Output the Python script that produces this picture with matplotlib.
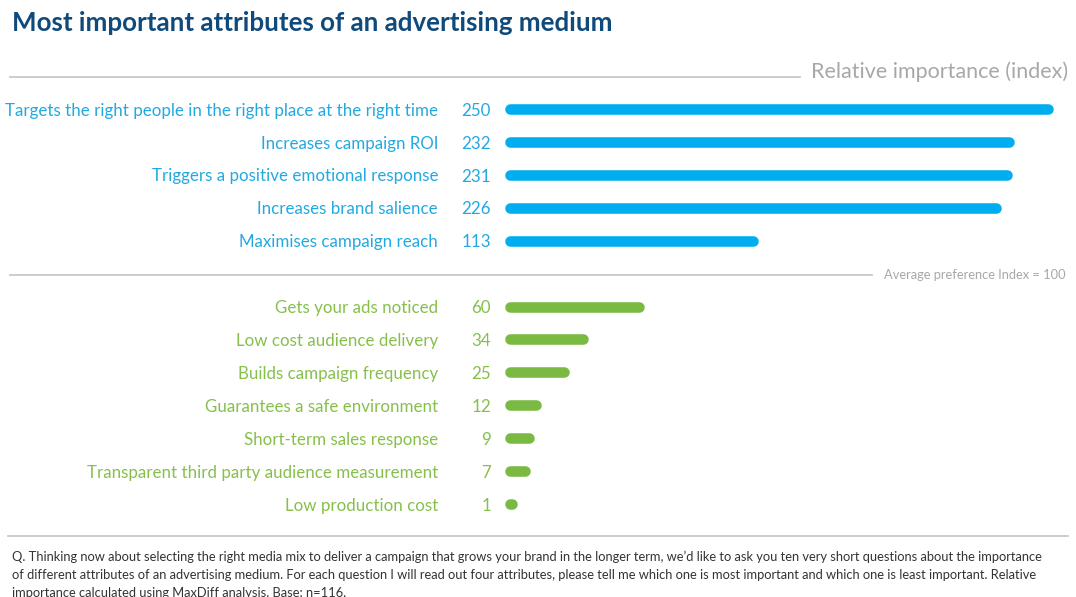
import matplotlib
matplotlib.use("Agg")
import matplotlib.pyplot as plt
from matplotlib.lines import Line2D
from matplotlib import transforms

plt.rcParams['font.family'] = ['Lato', 'DejaVu Sans']

# Attribute groups and their relative importance index
top_attributes = [
    "Targets the right people in the right place at the right time",
    "Increases campaign ROI",
    "Triggers a positive emotional response",
    "Increases brand salience",
    "Maximises campaign reach",
]
top_values = [250, 232, 231, 226, 113]

low_attributes = [
    "Gets your ads noticed",
    "Low cost audience delivery",
    "Builds campaign frequency",
    "Guarantees a safe environment",
    "Short-term sales response",
    "Transparent third party audience measurement",
    "Low production cost",
]
low_values = [60, 34, 25, 12, 9, 7, 1]

title = "Most important attributes of an advertising medium"
axis_caption = "Relative importance (index)"
average_note = "Average preference Index = 100"
footnote_lines = [
    "Q. Thinking now about selecting the right media mix to deliver a campaign that grows your brand in the longer term, we\u2019d like to ask you ten very short questions about the importance",
    "of different attributes of an advertising medium. For each question I will read out four attributes, please tell me which one is most important and which one is least important. Relative",
    "importance calculated using MaxDiff analysis. Base: n=116.",
]

W, H = 1076, 597
BLUE_BAR = "#00adef"
BLUE_TXT = "#22a9e2"
GREEN_BAR = "#7aba43"
GREEN_TXT = "#86c04b"
GREY_LINE = "#c8c8c8"
GREY_TXT = "#a8a8a8"

fig = plt.figure(figsize=(W / 100, H / 100), dpi=100)
fig.patch.set_facecolor("white")


def fx(px):
    return px / W


def fy(py):
    return 1 - py / H


# Bar area: row 0 at top, row 12 at bottom; one empty row between groups
ax = fig.add_axes([fx(510), fy(504), fx(1063) - fx(510), fy(109) - fy(504)])
ax.set_xlim(0, 257)
ax.set_ylim(12, 0)
ax.axis("off")

top_rows = list(range(len(top_values)))
low_rows = [r + len(top_values) + 1 for r in range(len(low_values))]

for rows, values, col in [(top_rows, top_values, BLUE_BAR),
                          (low_rows, low_values, GREEN_BAR)]:
    lc = ax.hlines(rows, 0, values, colors=col, linewidth=7.6,
                   capstyle="round")
    lc.set_clip_on(False)

lab_tr = transforms.blended_transform_factory(fig.transFigure, ax.transData)
text_shift = transforms.ScaledTranslation(0, -1.2 / 72, fig.dpi_scale_trans)
for rows, labels, values, col in [
    (top_rows, top_attributes, top_values, BLUE_TXT),
    (low_rows, low_attributes, low_values, GREEN_TXT),
]:
    for r, lab, v in zip(rows, labels, values):
        ax.text(fx(438), r, lab, transform=lab_tr + text_shift, ha="right",
                va="center", fontsize=12.2, color=col, clip_on=False)
        ax.text(fx(491), r, f"{v}", transform=lab_tr + text_shift,
                ha="right", va="center", fontsize=12.2, color=col,
                clip_on=False)

# Title
fig.text(fx(12), fy(23), title, ha="left", va="center", fontsize=18.6,
         fontweight="bold", color="#0f4a7b")

# Header rule with caption
fig.add_artist(Line2D([fx(10), fx(800)], [fy(77), fy(77)], color=GREY_LINE,
                      linewidth=1.3))
fig.text(fx(1068), fy(72), axis_caption, ha="right", va="center",
         fontsize=15.5, color=GREY_TXT)

# Average divider
fig.add_artist(Line2D([fx(10), fx(872)], [fy(275), fy(275)],
                      color=GREY_LINE, linewidth=1.3))
fig.text(fx(1066), fy(275), average_note, ha="right", va="center",
         fontsize=9.3, color=GREY_TXT)

# Footnote
fig.add_artist(Line2D([fx(8), fx(1068)], [fy(536), fy(536)],
                      color=GREY_LINE, linewidth=1.3))
for i, line in enumerate(footnote_lines):
    fig.text(fx(12), fy(557 + 18 * i), line, ha="left", va="center",
             fontsize=9.3, color="#333333")

fig.savefig("out.png", dpi=100, facecolor="white")
